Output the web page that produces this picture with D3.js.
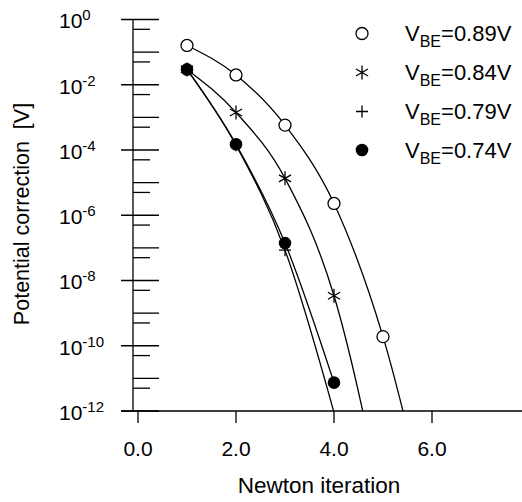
<!DOCTYPE html>
<html>
<head>
<meta charset="utf-8">
<script src="https://cdn.jsdelivr.net/npm/d3@7"></script>
<style>
  body { margin: 0; background: #fff; }
  text { font-family: "Liberation Sans", Arial, sans-serif; fill: #000; }
</style>
</head>
<body>
<div id="chart"></div>
<script>
// data
var iterations = [1, 2, 3, 4, 5, 6];
var v089 = [1.6e-1, 2.0e-2, 5.8e-4, 2.3e-6, 1.9e-10, 2e-16];
var v084 = [2.95e-2, 1.41e-3, 1.35e-5, 3.4e-9, 1.26e-15];
var v079 = [2.95e-2, 1.4e-4, 8.5e-8, 9e-13];
var v074 = [2.95e-2, 1.5e-4, 1.4e-7, 7.4e-12];
var seriesLabels = ["0.89V", "0.84V", "0.79V", "0.74V"];
var seriesMarks = ["circle", "star", "plus", "dot"];
var xTicks = [0, 2, 4, 6];
var yMajor = [1, 1e-2, 1e-4, 1e-6, 1e-8, 1e-10, 1e-12];
var yMajorExp = ["0", "-2", "-4", "-6", "-8", "-10", "-12"];

var width = 522, height = 502;

var svg = d3.select("#chart")
  .append("svg")
    .attr("width", width)
    .attr("height", height);

var x = d3.scaleLinear()
  .domain([0, 6])
  .range([138, 432]);

var y = d3.scaleLog()
  .domain([1e-12, 1])
  .range([411, 19.5]);

var axisX = 133;

// clip area for the curves that run off the bottom
svg.append("clipPath")
    .attr("id", "plotclip")
  .append("rect")
    .attr("x", axisX)
    .attr("y", y(1))
    .attr("width", width - axisX)
    .attr("height", y(1e-12) - y(1));

// y axis: line and three kinds of ticks
var yAxis = svg.append("g").attr("stroke", "#000").attr("stroke-width", 1.3);
yAxis.append("line")
  .attr("x1", axisX).attr("x2", axisX)
  .attr("y1", y(1)).attr("y2", y(1e-12));

var ticks = [];
for (var e = 0; e >= -12; e--) {
  ticks.push({v: Math.pow(10, e), kind: (e % 2 === 0) ? "major" : "mid"});
  if (e > -12) ticks.push({v: 5 * Math.pow(10, e - 1), kind: "minor"});
}
yAxis.selectAll(".ytick")
  .data(ticks)
  .enter()
  .append("line")
    .attr("x1", function (d) { return d.kind === "major" ? 121 : axisX; })
    .attr("x2", function (d) { return d.kind === "minor" ? 150 : 159; })
    .attr("y1", function (d) { return y(d.v); })
    .attr("y2", function (d) { return y(d.v); });

// y tick labels 10^n
var ylab = svg.append("g")
  .selectAll("text")
  .data(yMajor)
  .enter()
  .append("text")
    .attr("x", 59)
    .attr("y", function (d) { return y(d) + 8.8; })
    .style("font-size", "21px");
ylab.append("tspan").text("10");
ylab.append("tspan")
  .attr("dy", -8)
  .style("font-size", "15px")
  .text(function (d, i) { return yMajorExp[i]; });

// x axis
var xAxis = svg.append("g").attr("stroke", "#000").attr("stroke-width", 1.3);
xAxis.append("line")
  .attr("x1", 121).attr("x2", width)
  .attr("y1", y(1e-12)).attr("y2", y(1e-12));
xAxis.selectAll(".xtick")
  .data(xTicks)
  .enter()
  .append("line")
    .attr("x1", function (d) { return x(d); })
    .attr("x2", function (d) { return x(d); })
    .attr("y1", y(1e-12))
    .attr("y2", y(1e-12) + 12);

svg.append("g")
  .selectAll("text")
  .data(xTicks)
  .enter()
  .append("text")
    .attr("x", function (d) { return x(d); })
    .attr("y", 455.5)
    .attr("text-anchor", "middle")
    .style("font-size", "21px")
    .text(function (d) { return d3.format(".1f")(d); });

// axis titles
svg.append("text")
  .attr("x", 319)
  .attr("y", 493)
  .attr("text-anchor", "middle")
  .style("font-size", "22.5px")
  .text("Newton iteration");

svg.append("text")
  .attr("transform", "translate(29,214) rotate(-90)")
  .attr("text-anchor", "middle")
  .style("font-size", "21.5px")
  .style("white-space", "pre")
  .text("Potential correction  [V]");

// series
var allSeries = [v089, v084, v079, v074];
var line = d3.line()
  .x(function (d) { return x(d.x); })
  .y(function (d) { return y(d.v); })
  .curve(d3.curveMonotoneX);

function drawMark(g, kind, cx, cy) {
  var r = 6;
  if (kind === "circle") {
    g.append("circle").attr("cx", cx).attr("cy", cy).attr("r", r)
      .attr("fill", "#fff").attr("stroke", "#000").attr("stroke-width", 1.3);
  } else if (kind === "dot") {
    g.append("circle").attr("cx", cx).attr("cy", cy).attr("r", 6.3)
      .attr("fill", "#000");
  } else if (kind === "plus") {
    g.append("path")
      .attr("d", "M" + (cx - r) + "," + cy + "H" + (cx + r) + "M" + cx + "," + (cy - r) + "V" + (cy + r))
      .attr("stroke", "#000").attr("stroke-width", 1.3).attr("fill", "none");
  } else if (kind === "star") {
    var rs = 7;
    var p = "M" + cx + "," + (cy - rs) + "V" + (cy + rs);
    [30, 150].forEach(function (a) {
      var dx = rs * Math.cos(a * Math.PI / 180), dy = rs * Math.sin(a * Math.PI / 180);
      p += "M" + (cx - dx) + "," + (cy - dy) + "L" + (cx + dx) + "," + (cy + dy);
    });
    g.append("path").attr("d", p)
      .attr("stroke", "#000").attr("stroke-width", 1.3).attr("fill", "none");
  }
}

var plot = svg.append("g").attr("clip-path", "url(#plotclip)");
allSeries.forEach(function (vals) {
  var pts = vals.map(function (v, i) { return {x: iterations[i], v: v}; });
  plot.append("path")
    .datum(pts)
    .attr("d", line)
    .attr("fill", "none")
    .attr("stroke", "#000")
    .attr("stroke-width", 1.3);
});
allSeries.forEach(function (vals, k) {
  vals.forEach(function (v, i) {
    if (v >= 1e-12) drawMark(plot, seriesMarks[k], x(iterations[i]), y(v));
  });
});

// legend
var legendY = [33.5, 72.5, 111.5, 150];
var legend = svg.append("g");
seriesLabels.forEach(function (lab, k) {
  drawMark(legend, seriesMarks[k], 362, legendY[k]);
  var t = legend.append("text")
    .attr("x", 405)
    .attr("y", legendY[k] + 7.5)
    .style("font-size", "22px");
  t.append("tspan").text("V");
  t.append("tspan").attr("dy", 6).style("font-size", "16px").text("BE");
  t.append("tspan").attr("dy", -6).text("=" + lab);
});
</script>
</body>
</html>
